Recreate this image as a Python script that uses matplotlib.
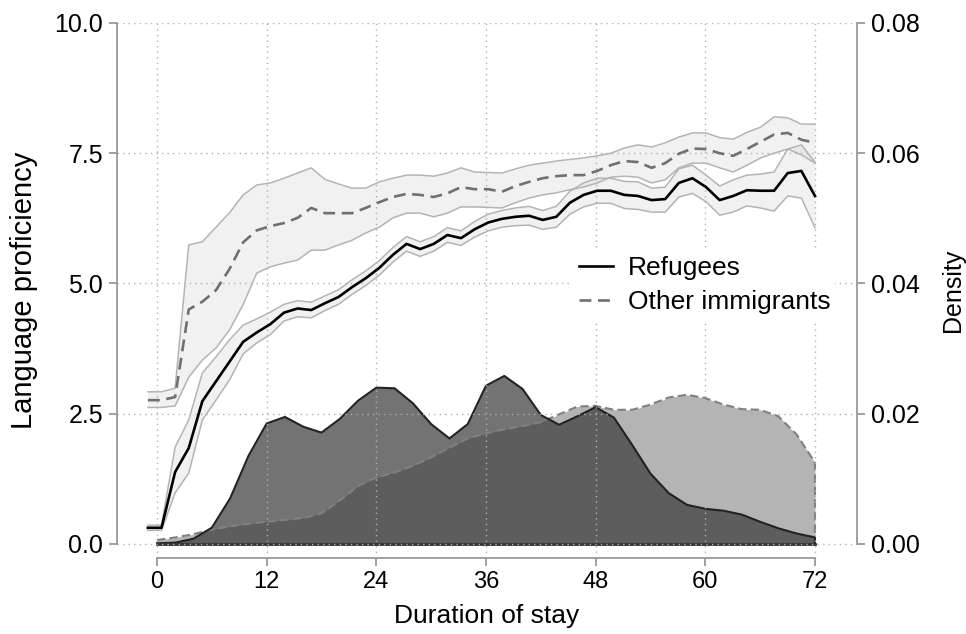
import numpy as np
import matplotlib
matplotlib.use("Agg")
import matplotlib.pyplot as plt
from matplotlib.ticker import FormatStrFormatter

plt.rcParams['font.family'] = ['Liberation Sans', 'DejaVu Sans']

# proficiency profiles (50 points between month -1 and 72)
months = np.linspace(-1, 72, 50)

ref_mean = [0.31, 0.31, 1.38, 1.84, 2.74, 3.12, 3.50, 3.88, 4.06, 4.22,
            4.44, 4.52, 4.49, 4.62, 4.74, 4.93, 5.10, 5.30, 5.55, 5.76,
            5.66, 5.76, 5.93, 5.87, 6.04, 6.17, 6.24, 6.28, 6.30, 6.22,
            6.28, 6.55, 6.70, 6.78, 6.78, 6.70, 6.68, 6.60, 6.62, 6.93,
            7.02, 6.85, 6.60, 6.68, 6.79, 6.78, 6.78, 7.12, 7.16, 6.68]
ref_lo = [0.26, 0.26, 0.98, 1.36, 2.38, 2.76, 3.15, 3.65, 3.86, 4.02,
          4.28, 4.36, 4.34, 4.48, 4.60, 4.79, 4.96, 5.16, 5.41, 5.62,
          5.52, 5.62, 5.79, 5.73, 5.89, 6.01, 6.08, 6.11, 6.12, 6.04,
          6.08, 6.33, 6.47, 6.54, 6.54, 6.44, 6.42, 6.37, 6.37, 6.66,
          6.73, 6.57, 6.31, 6.37, 6.49, 6.45, 6.39, 6.68, 6.64, 6.07]
ref_hi = [0.36, 0.36, 1.86, 2.38, 3.28, 3.59, 3.92, 4.20, 4.32, 4.45,
          4.60, 4.67, 4.64, 4.76, 4.88, 5.07, 5.24, 5.44, 5.69, 5.90,
          5.80, 5.90, 6.07, 6.01, 6.19, 6.33, 6.40, 6.45, 6.48, 6.40,
          6.48, 6.77, 6.93, 7.02, 7.02, 6.96, 6.95, 6.83, 6.85, 7.20,
          7.27, 7.08, 6.87, 6.99, 7.08, 7.10, 7.14, 7.58, 7.66, 7.33]

oth_mean = [2.76, 2.76, 2.82, 4.50, 4.65, 4.87, 5.28, 5.79, 6.02, 6.10,
            6.16, 6.26, 6.45, 6.35, 6.35, 6.35, 6.45, 6.56, 6.66, 6.72,
            6.70, 6.66, 6.73, 6.85, 6.81, 6.81, 6.76, 6.87, 6.95, 7.02,
            7.06, 7.08, 7.08, 7.16, 7.27, 7.35, 7.33, 7.22, 7.31, 7.49,
            7.59, 7.58, 7.50, 7.45, 7.58, 7.72, 7.86, 7.89, 7.76, 7.70]
oth_lo = [2.62, 2.62, 2.65, 3.20, 3.53, 3.76, 4.11, 4.60, 5.20, 5.32,
          5.39, 5.45, 5.64, 5.64, 5.74, 5.83, 5.97, 6.08, 6.26, 6.35,
          6.35, 6.28, 6.35, 6.47, 6.47, 6.46, 6.45, 6.55, 6.64, 6.70,
          6.74, 6.80, 6.85, 6.93, 7.04, 7.06, 7.04, 6.93, 6.99, 7.22,
          7.31, 7.31, 7.22, 7.14, 7.27, 7.41, 7.50, 7.58, 7.47, 7.31]
oth_hi = [2.92, 2.92, 2.99, 5.74, 5.80, 6.08, 6.36, 6.70, 6.89, 6.93,
          7.02, 7.12, 7.22, 7.00, 6.91, 6.83, 6.83, 6.95, 7.02, 7.08,
          7.08, 7.06, 7.12, 7.22, 7.14, 7.13, 7.12, 7.20, 7.27, 7.31,
          7.35, 7.38, 7.41, 7.45, 7.50, 7.60, 7.66, 7.62, 7.70, 7.81,
          7.89, 7.89, 7.80, 7.77, 7.90, 8.00, 8.20, 8.18, 8.06, 8.06]

# densities of duration of stay (every 2 months)
dens_months = np.arange(0, 73, 2)
ref_dens = [0.0001, 0.0002, 0.0008, 0.0025, 0.0070, 0.0135, 0.0185, 0.0195, 0.0180, 0.0171,
            0.0192, 0.0220, 0.0240, 0.0239, 0.0216, 0.0184, 0.0162, 0.0184, 0.0243, 0.0258,
            0.0238, 0.0198, 0.0183, 0.0196, 0.0210, 0.0194, 0.0152, 0.0108, 0.0078, 0.0060,
            0.0054, 0.0051, 0.0045, 0.0034, 0.0024, 0.0016, 0.0010]
oth_dens = [0.0006, 0.0010, 0.0015, 0.0022, 0.0027, 0.0031, 0.0034, 0.0037, 0.0040, 0.0047,
            0.0067, 0.0089, 0.0102, 0.0110, 0.0120, 0.0133, 0.0148, 0.0162, 0.0170, 0.0176,
            0.0181, 0.0187, 0.0199, 0.0211, 0.0212, 0.0206, 0.0206, 0.0214, 0.0225, 0.0229,
            0.0224, 0.0214, 0.0207, 0.0206, 0.0196, 0.0168, 0.0125]

fig = plt.figure(figsize=(9.66, 6.34), dpi=100)
ax = fig.add_axes([117/966, 1 - 558/634, 740/966, 535/634])
ax2 = ax.twinx()
ax.set_zorder(ax2.get_zorder() + 1)
ax.patch.set_visible(False)

# Densities (right axis)
ax2.fill_between(dens_months, 0, oth_dens, color='#b4b4b4', lw=0)
ax2.plot(np.r_[dens_months, 72], np.r_[oth_dens, 0], color='#808080', lw=1.5, dashes=(4, 2))
ax2.fill_between(dens_months, 0, ref_dens, color='#383838', alpha=0.7, lw=0)
ax2.plot(np.r_[dens_months, 72], np.r_[ref_dens, 0], color='#222222', lw=1.5)
ax2.plot([0, 72], [0, 0], color='#333333', lw=2)

# Proficiency bands and lines (left axis)
for lo, hi in [(oth_lo, oth_hi), (ref_lo, ref_hi)]:
    ax.fill_between(months, lo, hi, color='#dcdcdc', alpha=0.4, lw=0)
    ax.plot(months, lo, color='#b4b4b4', lw=1.1)
    ax.plot(months, hi, color='#b4b4b4', lw=1.1)
ax.plot(months, ref_mean, color='black', lw=1.9, label='Refugees')
ax.plot(months, oth_mean, color='#707070', lw=1.9, dashes=(4.5, 2.5), label='Other immigrants')

ax.set_xlim(-4.38, 76.6)
ax.set_ylim(-0.27, 10.0)
ax2.set_ylim(-0.27 * 0.008, 0.08)

ax.set_xticks(range(0, 73, 12))
ax.set_yticks([0, 2.5, 5, 7.5, 10])
ax2.set_yticks([0, 0.02, 0.04, 0.06, 0.08])
ax.yaxis.set_major_formatter(FormatStrFormatter('%.1f'))
ax2.yaxis.set_major_formatter(FormatStrFormatter('%.2f'))

spine_col = '#999999'
for a in (ax, ax2):
    for s in a.spines.values():
        s.set_color(spine_col)
        s.set_linewidth(1.3)
    a.spines['top'].set_visible(False)
    a.tick_params(colors=spine_col, labelcolor='black', labelsize=18, length=6, width=1.3, pad=4)
ax.tick_params(axis='x', labelsize=17, pad=3)
ax.spines['right'].set_visible(False)
ax2.spines['left'].set_visible(False)
ax2.spines['bottom'].set_visible(False)
ax.spines['left'].set_bounds(0, 10)
ax.spines['bottom'].set_bounds(0, 72)
ax2.spines['right'].set_bounds(0, 0.08)

ax.grid(True, linestyle=(0, (1, 3)), color='#b0b0b0', lw=1.0)

ax.set_xlabel('Duration of stay', fontsize=19, labelpad=8)
ax.set_ylabel('Language proficiency', fontsize=21, labelpad=12)
ax2.set_ylabel('Density', fontsize=18, labelpad=15)

leg = ax.legend(loc='center left', bbox_to_anchor=(0.599, 0.51), fontsize=19,
                frameon=True, facecolor='white', edgecolor='none', framealpha=1,
                handlelength=1.3, handletextpad=0.55, labelspacing=0.4, borderpad=0.2)

plt.savefig('out.png', dpi=100)
